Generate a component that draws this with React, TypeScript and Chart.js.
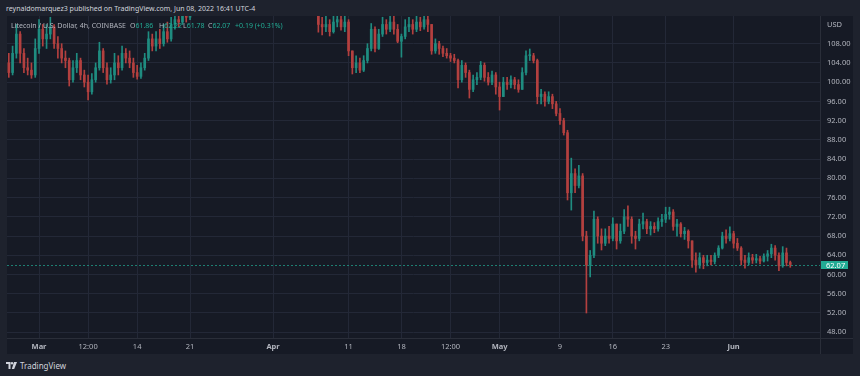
import { useEffect, useRef } from "react";
import { Chart, registerables } from "chart.js";

Chart.register(...registerables);

// 12h candles; x value = days since Mar 1 00:00
const START_DAY = -4;
const STEP = 0.5;
const FIRST_OPEN = 104;

const CLOSES = [
  102, 106, 110, 106, 103, 102.5, 101.5, 107, // Feb 25-28
  111, 109, 110, 111.5, 108, 107, 105, 104.5, 100.5, 103, // Mar 1-5
  104.5, 101.5, 100, 98, 100.5, 103, 106.5, 103, 100.5, 101.5, // Mar 6-10
  104, 103, 106, 105, 104, 102, 101.2, 103, 105, 109, // Mar 11-15
  107.5, 109, 108, 110.5, 109, 112, 113, 112.5, 114, 113.5, // Mar 16-20
  116, 118, 117, 119, 121, 120, 122, 121.5, 123, 124.5, // Mar 21-25
  123.5, 125, 126.5, 129, 128, 130.5, 132, 129.5, 128, 126, // Mar 26-30
  124, 125.5, 127, 129.5, 132, 131, 129, 127, 126, 124, // Mar 31-Apr 4
  121, 119, 117, 115, 112, 111.5, 112, 110.5, 112.5, 113, // Apr 5-9
  111.5, 112.5, 106.5, 103, 104, 102.5, 104.5, 107, 111, 107, // Apr 10-14
  110, 112, 111, 112.5, 111, 108.5, 109.5, 111.5, 112, 111, // Apr 15-19
  112.5, 111.5, 113, 112, 106.5, 108, 107, 106, 105.5, 105, // Apr 20-24
  104.5, 100.5, 103.5, 102, 98.5, 100.5, 101, 103.5, 101, 100, // Apr 25-29
  101.5, 99, 97, 100, 99.5, 100.5, 99.5, 98.5, 102, 105.5, // Apr 30-May 4
  105.5, 104.5, 97, 97.5, 96, 97, 95.5, 93.5, 92, 89.5, // May 5-9
  77, 81, 78.5, 80.5, 68, 62, 64, 71.5, 68, 66.5, // May 10-14
  68, 67.5, 70.5, 67, 69, 72, 71.5, 68, 67.5, 70.5, // May 15-19
  71, 69.5, 70, 69.5, 71, 71.5, 72.5, 73, 70, 70.5, // May 20-24
  68.5, 69, 67, 63, 62, 63.5, 62.5, 63, 62.7, 64, // May 25-29
  65.5, 68, 67.5, 68.5, 66.5, 65.5, 63, 62.5, 63.5, 63, // May 30-Jun 3
  63.3, 62.8, 63.8, 64.3, 65.5, 64, 61.8, 64.5, 62.5, 62.07, // Jun 4-8
];

const HIGHS = [
  106, 107.5, 112, 110.5, 107, 105, 104, 109,
  113, 112, 112, 113.5, 112, 109.5, 108, 106.5, 105, 104.5,
  106, 105, 102.5, 101.5, 101.8, 104, 108.3, 107, 104, 103,
  106, 105.5, 107.5, 107, 106.5, 105, 103.5, 104, 106, 110.5,
  110, 110.5, 111, 112, 112.5, 113.5, 115, 114.5, 115.5, 116,
  118, 120, 119, 120.5, 122.5, 122, 123.5, 124, 125, 126,
  126, 127, 128, 131, 130.5, 133, 134, 133, 131, 129,
  127, 127, 129, 131, 134.5, 134, 132, 130, 128.5, 127,
  125, 122, 120, 118, 115, 113.5, 114, 113, 114.5, 115,
  114, 114.5, 113, 106.5, 105.5, 105, 105.5, 108, 112.2, 111.5,
  111, 113.5, 113, 114, 114, 112, 110, 113, 113.5, 113,
  114.5, 113.5, 115, 114, 112, 109, 108.5, 107.5, 107, 106,
  105.8, 104.8, 104.5, 104, 102.5, 101.5, 102, 104.3, 104, 102,
  102.3, 102, 100, 101, 101, 101.3, 101, 100.5, 103, 106.5,
  106.9, 106, 104.8, 98.5, 98, 98, 97.5, 96, 94.5, 92.5,
  90, 84.2, 82, 82.7, 81, 69, 65, 73.2, 72, 69.5,
  69.5, 70, 71.8, 70.5, 70.5, 73.5, 74.3, 72, 69, 71.5,
  72.8, 71.5, 71, 70.8, 71.8, 72.5, 74, 74, 73.5, 71.5,
  70.8, 69.8, 69.3, 67, 64.5, 64.5, 64, 64, 64, 64.5,
  66, 68.8, 69.3, 69.9, 69, 67.5, 65.8, 64, 64.5, 64.2,
  64.2, 63.8, 64.3, 65, 66.3, 66, 64.5, 65.8, 65.5, 62.8,
];

const LOWS = [
  101, 101.5, 105, 104, 102, 101.5, 100.8, 101,
  106, 107.5, 107, 109, 107, 105, 104, 103, 99.2, 100,
  102, 100.5, 99, 96.3, 97.5, 100, 102.5, 102, 99.6, 99.8,
  100.5, 101.5, 102.5, 104, 103, 101, 100.6, 100.8, 102.5, 104.5,
  106.5, 106.5, 107, 107.5, 108.3, 108.5, 111, 111.5, 112, 112.5,
  113, 115, 115, 116, 118, 118.5, 119, 120, 120.5, 122,
  121.5, 122.5, 124, 125.5, 126, 127, 129, 128, 126.5, 124.5,
  122, 122.5, 124, 126, 128, 129, 127, 125, 124, 122,
  119.5, 117, 115.5, 114.2, 110.4, 109.8, 110.5, 109.6, 110.2, 111.5,
  110.8, 110.5, 105.5, 101.7, 102, 102, 102.2, 104, 106.5, 106.3,
  106.8, 109.5, 110, 110.5, 110, 108.2, 105.2, 109, 110.5, 110,
  110.5, 110.7, 111, 110.5, 105.8, 106, 105.8, 105.3, 105, 104.3,
  104, 98.8, 100, 101, 96.7, 98, 99.5, 100.5, 100.2, 99.4,
  99.5, 97.5, 94.2, 97, 98.5, 98.8, 98.6, 97.9, 98.5, 101.5,
  104.5, 104, 95.5, 95.5, 95, 95.5, 94.5, 93, 91.2, 89,
  75.5, 73.4, 77, 78, 67, 52, 59.5, 63.5, 66.5, 65.1,
  66, 66.5, 67, 65.3, 66.5, 68.5, 70, 66.5, 65.3, 67,
  69.5, 68.5, 68.2, 68.7, 69, 70, 70.8, 71.5, 69.2, 68,
  67.8, 67.3, 65.5, 61.5, 60.5, 61.3, 61.2, 61.8, 62, 62.2,
  63.5, 65.3, 66.5, 67, 65.5, 65, 62, 61.3, 62, 62.3,
  62.4, 62.2, 62.6, 62.8, 63.5, 63, 60.8, 61.5, 61.8, 61.5,
];

const PRICE_TICKS = [48, 52, 56, 60, 64, 68, 72, 76, 80, 84, 88, 92, 96, 100, 104, 108];
const TIME_TICKS = [0, 6.5, 13, 20, 31, 41, 48, 54.5, 61, 69, 76, 83, 92];
const TIME_LABELS = ["Mar", "12:00", "14", "21", "Apr", "11", "18", "12:00", "May", "9", "16", "23", "Jun"];
const MONTHS = ["Mar", "Apr", "May", "Jun"];
const LAST_PRICE = 62.07;

const X_MIN = -4.24;
const X_MAX = 103.44;
const Y_MIN = 46.8;
const Y_MAX = 113.76;

const UP = "#1f8c80";
const DOWN = "#b3403f";
const TEAL = "#22ab94";
const GRID = "#232837";
const SEP = "#2a2e39";
const TEXT = "#b2b5be";
const FONT = "'Noto Sans', 'Liberation Sans', sans-serif";
const PLOT_BG = "#161a25";
const OUTER_BG = "#1e222d";

export default function App() {
  const ref = useRef<HTMLCanvasElement | null>(null);

  useEffect(() => {
    const canvas = ref.current;
    if (!canvas) return;
    const xs = CLOSES.map((_, i) => START_DAY + i * STEP);
    const opens = CLOSES.map((_, i) => (i === 0 ? FIRST_OPEN : CLOSES[i - 1]));
    const colors = CLOSES.map((c, i) => (c >= opens[i] ? UP : DOWN));

    const overlay = {
      id: "overlay",
      beforeDatasetsDraw(chart: any) {
        const { ctx, chartArea } = chart;
        const y = Math.round(chart.scales.y.getPixelForValue(LAST_PRICE)) + 0.5;
        ctx.save();
        ctx.strokeStyle = TEAL;
        ctx.globalAlpha = 0.7;
        ctx.lineWidth = 1;
        ctx.setLineDash([2, 2]);
        ctx.beginPath();
        ctx.moveTo(chartArea.left, y);
        ctx.lineTo(chartArea.right, y);
        ctx.stroke();
        ctx.restore();
      },
      afterDraw(chart: any) {
        const { ctx, chartArea, width, height } = chart;
        ctx.save();
        ctx.strokeStyle = SEP;
        ctx.lineWidth = 1;
        ctx.beginPath();
        ctx.moveTo(Math.round(chartArea.right) + 0.5, 0);
        ctx.lineTo(Math.round(chartArea.right) + 0.5, height);
        ctx.moveTo(0, Math.round(chartArea.bottom) + 0.5);
        ctx.lineTo(width, Math.round(chartArea.bottom) + 0.5);
        ctx.stroke();
        ctx.restore();
      },
    };

    const chart = new Chart(canvas, {
      type: "bar",
      data: {
        datasets: [
          {
            data: xs.map((x, i) => ({ x, y: [opens[i], CLOSES[i]] })) as any,
            backgroundColor: colors,
            barThickness: 2,
            grouped: false,
            minBarLength: 1,
            borderWidth: 0,
          } as any,
          {
            data: xs.map((x, i) => ({ x, y: [LOWS[i], HIGHS[i]] })) as any,
            backgroundColor: colors,
            barThickness: 1,
            grouped: false,
            borderWidth: 0,
          } as any,
        ],
      },
      options: {
        animation: false,
        responsive: false,
        devicePixelRatio: 1,
        layout: { padding: 0, autoPadding: false } as any,
        plugins: { legend: { display: false }, tooltip: { enabled: false } },
        events: [],
        scales: {
          x: {
            type: "linear",
            offset: false,
            min: X_MIN,
            max: X_MAX,
            afterBuildTicks: (s: any) => {
              s.ticks = TIME_TICKS.map((v) => ({ value: v }));
            },
            afterFit: (s: any) => {
              s.height = 16;
              s.paddingLeft = 0;
              s.paddingRight = 0;
            },
            ticks: {
              autoSkip: false,
              maxRotation: 0,
              padding: 4,
              color: TEXT,
              callback: (_v: any, i: number) => TIME_LABELS[i],
              font: (c: any) => ({
                family: FONT,
                size: 7.5,
                weight: MONTHS.includes(TIME_LABELS[c.index]) ? "bold" : "normal",
              }),
            } as any,
            grid: { color: GRID, drawTicks: false, offset: false },
            border: { display: false },
          },
          y: {
            position: "right",
            min: Y_MIN,
            max: Y_MAX,
            afterBuildTicks: (s: any) => {
              s.ticks = PRICE_TICKS.map((v) => ({ value: v }));
            },
            afterFit: (s: any) => {
              s.width = 33;
              s.paddingTop = 0;
              s.paddingBottom = 0;
            },
            ticks: {
              padding: 7,
              color: TEXT,
              font: { family: FONT, size: 7.5 },
              callback: (v: any) => Number(v).toFixed(2),
            },
            grid: { color: GRID, drawTicks: false },
            border: { display: false },
          },
        },
      },
      plugins: [overlay],
    });
    return () => chart.destroy();
  }, []);

  const small = { fontFamily: FONT, fontSize: "7px", lineHeight: "9px", whiteSpace: "nowrap" as const };

  return (
    <div style={{ position: "fixed", left: 0, top: 0, width: 860, height: 376, background: OUTER_BG, overflow: "hidden" }}>
      <div style={{ ...small, position: "absolute", left: 6, top: 4, color: "#d1d4dc" }}>
        reynaldomarquez3 published on TradingView.com, Jun 08, 2022 16:41 UTC-4
      </div>
      <div style={{ position: "absolute", left: 7, top: 16, width: 846, height: 338, background: PLOT_BG }}>
        <canvas ref={ref} width={846} height={338} style={{ display: "block", width: 846, height: 338 }} />
      </div>
      <div style={{ ...small, position: "absolute", left: 11, top: 21, color: TEXT }}>Litecoin / U.S. Dollar, 4h, COINBASE</div>
      <div style={{ ...small, position: "absolute", left: 130, top: 21, color: TEXT }}>O<span style={{ color: TEAL }}>61.86</span></div>
      <div style={{ ...small, position: "absolute", left: 159, top: 21, color: TEXT }}>H<span style={{ color: TEAL }}>62.22</span></div>
      <div style={{ ...small, position: "absolute", left: 183, top: 21, color: TEXT }}>L<span style={{ color: TEAL }}>61.78</span></div>
      <div style={{ ...small, position: "absolute", left: 208, top: 21, color: TEXT }}>C<span style={{ color: TEAL }}>62.07</span></div>
      <div style={{ ...small, position: "absolute", left: 235, top: 21, color: TEAL }}>+0.19 (+0.31%)</div>
      <div style={{ ...small, fontSize: "7.5px", position: "absolute", left: 827, top: 20, color: TEXT }}>USD</div>
      <div style={{ ...small, fontSize: "7.5px", position: "absolute", left: 821, top: 261, width: 27, height: 8, lineHeight: "8px", background: TEAL, color: "#ffffff", paddingLeft: 5, boxSizing: "border-box" }}>
        62.07
      </div>
      <div style={{ position: "absolute", left: 6, top: 361, display: "flex", alignItems: "center", gap: 3 }}>
        <svg width="11" height="7" viewBox="0 0 11 7">
          <path d="M0 0 H4.5 V7 H2.5 V2 H0 Z" fill="#d1d4dc" />
          <circle cx="6" cy="1.2" r="1.2" fill="#d1d4dc" />
          <path d="M8 0 H11 L8.2 7 H5.8 Z" fill="#d1d4dc" />
        </svg>
        <span style={{ ...small, fontSize: "8px", color: "#d1d4dc" }}>TradingView</span>
      </div>
    </div>
  );
}
